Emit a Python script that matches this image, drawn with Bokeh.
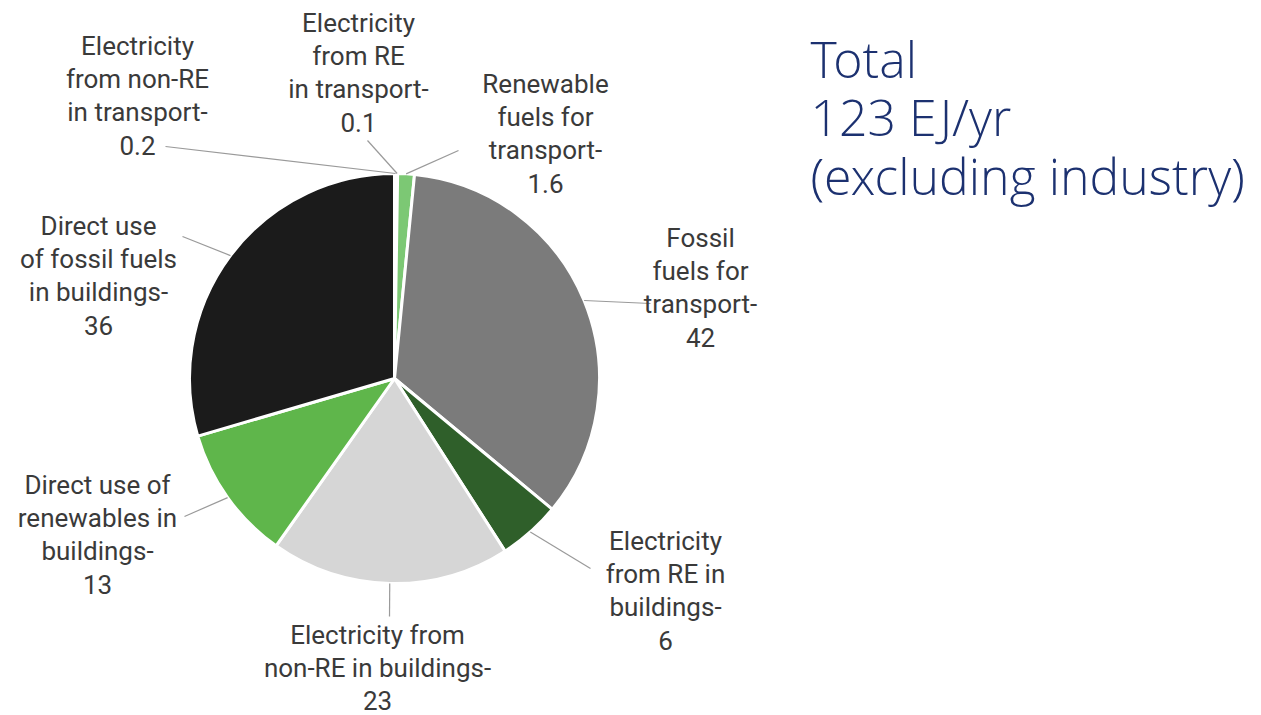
import math
from bokeh.plotting import figure
from bokeh.models import ColumnDataSource, Range1d
from bokeh.core.properties import value
from bokeh.embed import file_html
from bokeh.resources import INLINE

# ---- data ----
categories = [
    "Electricity from non-RE in transport",
    "Electricity from RE in transport",
    "Renewable fuels for transport",
    "Fossil fuels for transport",
    "Electricity from RE in buildings",
    "Electricity from non-RE in buildings",
    "Direct use of renewables in buildings",
    "Direct use of fossil fuels in buildings",
]
values = [0.2, 0.1, 1.6, 42, 6, 23, 13, 36]
value_labels = ["0.2", "0.1", "1.6", "42", "6", "23", "13", "36"]
label_lines = [
    ["Electricity", "from non-RE", "in transport-"],
    ["Electricity", "from RE", "in transport-"],
    ["Renewable", "fuels for", "transport-"],
    ["Fossil", "fuels for", "transport-"],
    ["Electricity", "from RE in", "buildings-"],
    ["Electricity from", "non-RE in buildings-"],
    ["Direct use of", "renewables in", "buildings-"],
    ["Direct use", "of fossil fuels", "in buildings-"],
]
title_lines = ["Total", "123 EJ/yr", "(excluding industry)"]

# ---- styling / layout ----
W, H = 1261, 715
colors = ["#8a8a8a", "#9fd48f", "#7cc874", "#7b7b7b", "#2f5f2a", "#d6d6d6", "#5fb64b", "#1b1b1b"]
CX, CY, R = 394, 378, 205          # pie centre and radius in pixels (y down)
label_pos = [(137, 45), (358, 22), (545, 83), (700, 237), (665, 540), (377, 634), (97, 484), (98, 225)]
line_end = [(165, 146), (367, 140), (458, 150), (650, 303), (590, 568), (389, 616), (184, 516), (182, 236)]
LINE_H = 33.2

def Y(y):
    return H - y

p = figure(width=W, height=H, output_backend="svg", toolbar_location=None,
           x_range=Range1d(0, W), y_range=Range1d(0, H),
           x_axis_type=None, y_axis_type=None, min_border=0)
p.outline_line_color = None
p.grid.visible = False
p.background_fill_color = "white"
p.border_fill_color = "white"

total = sum(values)
starts, ends, mids = [], [], []
cum = 0.0
for v in values:
    a0 = math.pi / 2 - 2 * math.pi * cum / total
    cum += v
    a1 = math.pi / 2 - 2 * math.pi * cum / total
    starts.append(a1)
    ends.append(a0)
    mids.append((a0 + a1) / 2)

src = ColumnDataSource(dict(x=[CX] * len(values), y=[Y(CY)] * len(values),
                            start=starts, end=ends, color=colors, cat=categories, val=values))
p.wedge(x="x", y="y", radius=R, start_angle="start", end_angle="end",
        fill_color="color", line_color="white", line_width=3, source=src)

# leader lines
xs, ys = [], []
for m, (ex, ey) in zip(mids, line_end):
    sx = CX + R * math.cos(m)
    sy = Y(CY) + R * math.sin(m)
    xs.append([sx, ex])
    ys.append([sy, Y(ey)])
p.multi_line(xs=xs, ys=ys, line_color="#9a9a9a", line_width=1.2)

# labels
tx, ty, tt = [], [], []
for lines, vl, (lx, ly) in zip(label_lines, value_labels, label_pos):
    for i, t in enumerate(lines + [vl]):
        tx.append(lx)
        ty.append(Y(ly + i * LINE_H))
        tt.append(t)
p.text(x=tx, y=ty, text=tt, text_align="center", text_baseline="middle",
       text_font=value("Roboto"), text_font_size="26px", text_color="#3a3a3a")

# title
p.text(x=[810] * 3, y=[Y(58), Y(116), Y(175)], text=title_lines,
       text_align="left", text_baseline="alphabetic",
       text_font=value("Open Sans Light"), text_font_size="50px", text_color="#1c3170")

open("out.html", "w").write(file_html(p, INLINE))
